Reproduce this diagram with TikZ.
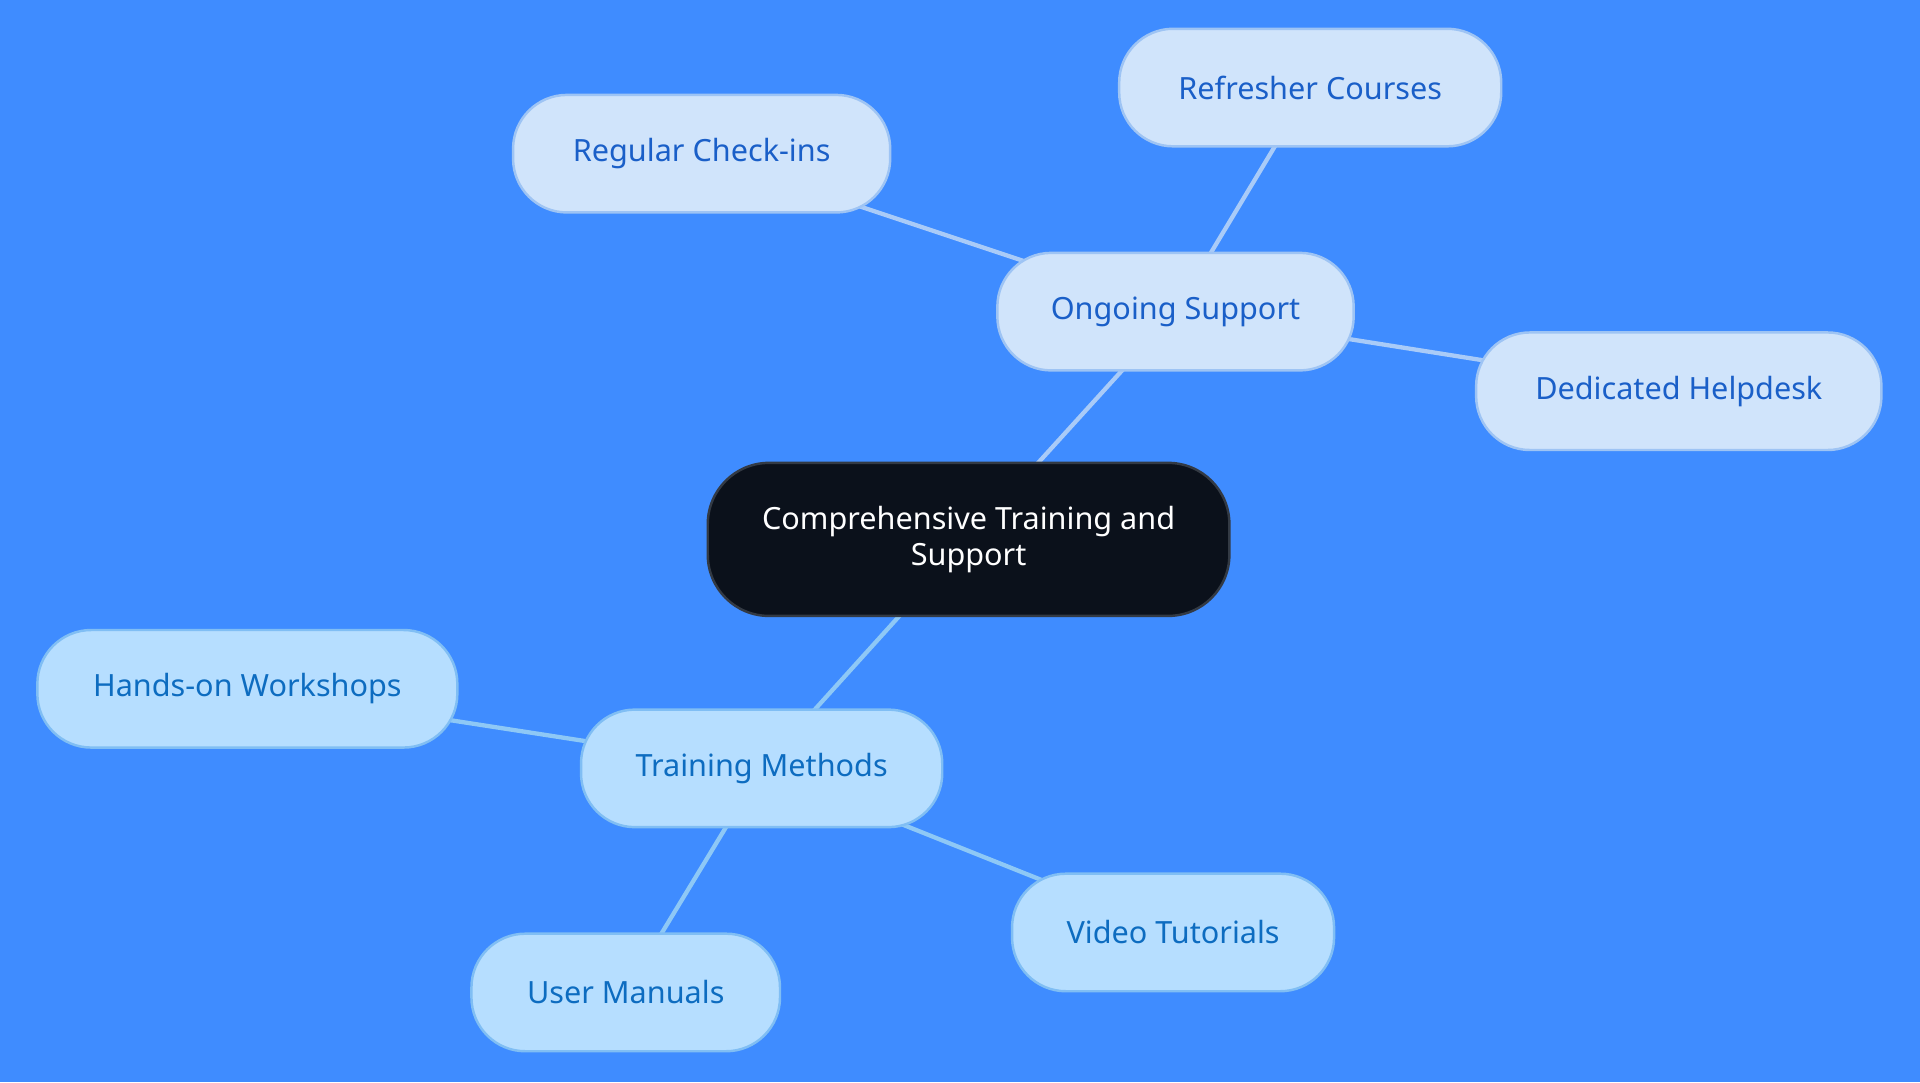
\documentclass[tikz,border=0pt]{standalone}
\usepackage{fontspec}
\setmainfont{Noto Sans}
\usetikzlibrary{backgrounds}
\definecolor{bg}{HTML}{3F8CFF}
\definecolor{cfill}{HTML}{0B111B}
\definecolor{cdraw}{HTML}{333A44}
\definecolor{ofill}{HTML}{D0E4FB}
\definecolor{odraw}{HTML}{9EC4F4}
\definecolor{otext}{HTML}{1A5FC8}
\definecolor{tfill}{HTML}{B6DEFF}
\definecolor{tdraw}{HTML}{80BEF4}
\definecolor{ttext}{HTML}{0D6CC0}
\definecolor{oedge}{HTML}{A9CBF8}
\definecolor{tedge}{HTML}{8EC8F6}
\tikzset{
  base/.style={line width=2pt, align=center, inner sep=0pt, font=\fontsize{25}{29}\selectfont},
  central/.style={base, fill=cfill, draw=cdraw, text=white, rounded corners=50pt, minimum width=426pt, minimum height=125pt},
  onode/.style={base, fill=ofill, draw=odraw, text=otext, rounded corners=44pt, minimum height=96pt},
  tnode/.style={base, fill=tfill, draw=tdraw, text=ttext, rounded corners=44pt, minimum height=96pt},
  oline/.style={draw=oedge, line width=3.5pt},
  tline/.style={draw=tedge, line width=3.5pt}
}
\begin{document}
\begin{tikzpicture}[x=1pt,y=-1pt]
\useasboundingbox (0,0) rectangle (1568,884);
\node[central] (c) at (791,440.5) {Comprehensive Training and\\Support};
\node[onode, minimum width=291pt] (os) at (960,254.5) {Ongoing Support};
\node[onode, minimum width=308pt] (rc) at (573,125.5) {Regular Check-ins};
\node[onode, minimum width=312pt] (rf) at (1070,71.5) {Refresher Courses};
\node[onode, minimum width=331pt] (dh) at (1371,319.5) {Dedicated Helpdesk};
\node[tnode, minimum width=295pt] (tm) at (622,627.5) {Training Methods};
\node[tnode, minimum width=343pt] (hw) at (202,562.5) {Hands-on Workshops};
\node[tnode, minimum width=252pt] (um) at (511,810.5) {User Manuals};
\node[tnode, minimum width=263pt] (vt) at (958,761.5) {Video Tutorials};
\begin{pgfonlayer}{background}
\fill[bg] (0,0) rectangle (1568,884);
\draw[oline] (c.center) -- (os.center);
\draw[oline] (os.center) -- (rc.center);
\draw[oline] (os.center) -- (rf.center);
\draw[oline] (os.center) -- (dh.center);
\draw[tline] (c.center) -- (tm.center);
\draw[tline] (tm.center) -- (hw.center);
\draw[tline] (tm.center) -- (um.center);
\draw[tline] (tm.center) -- (vt.center);
\end{pgfonlayer}
\end{tikzpicture}
\end{document}
